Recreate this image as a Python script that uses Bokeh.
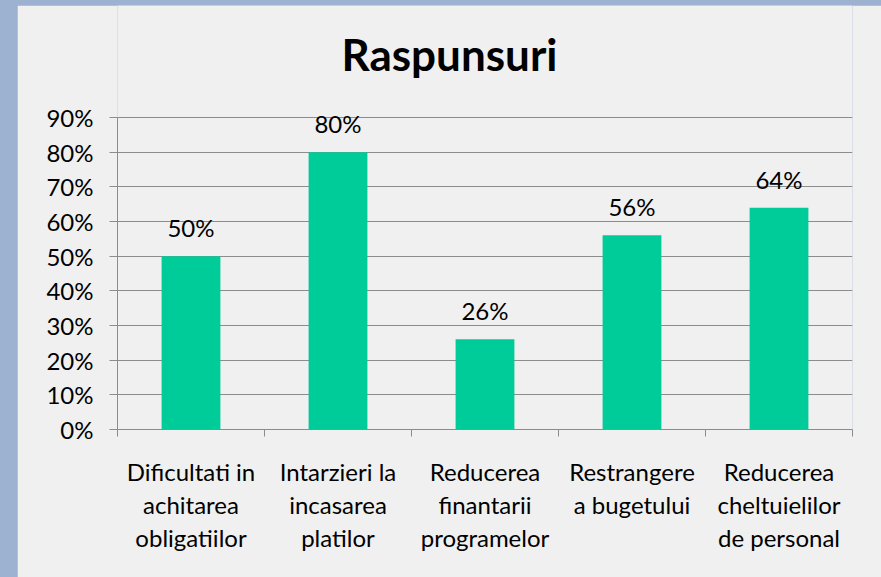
from bokeh.plotting import figure
from bokeh.models import (Range1d, FixedTicker, LinearAxis, NumeralTickFormatter,
                          ColumnDataSource, LabelSet, Label)
from bokeh.core.properties import value
from bokeh.embed import file_html
from bokeh.resources import INLINE

title = "Raspunsuri"
categories = [
    "Dificultati in\nachitarea\nobligatiilor",
    "Intarzieri la\nincasarea\nplatilor",
    "Reducerea\nfinantarii\nprogramelor",
    "Restrangere\na bugetului",
    "Reducerea\ncheltuielilor\nde personal",
]
values = [0.50, 0.80, 0.26, 0.56, 0.64]
y_ticks = [0.0, 0.1, 0.2, 0.3, 0.4, 0.5, 0.6, 0.7, 0.8, 0.9]

FONT = "Lato"
BAR = "#00CC99"
GRID = "#8C8C8C"
PANEL = "#F0F0F0"
FS = "24px"

# layout (pixels)
W, H = 864, 572
LEFT, RIGHT, BOTTOM = 100, 29, 148
PLOT_TOP = 112          # where the 90% line sits, from the figure top
frame_h = H - BOTTOM    # frame runs to the figure top
y_top = y_ticks[-1] * frame_h / (frame_h - PLOT_TOP)

n = len(categories)
centers = [i + 0.5 for i in range(n)]
bounds = list(range(n + 1))

src = ColumnDataSource(data=dict(
    x=centers, top=values, lab=[f"{round(v*100)}%" for v in values]))

p = figure(width=W, height=H, output_backend="svg", toolbar_location=None,
           x_range=Range1d(0, n), y_range=Range1d(0, y_top),
           x_axis_location=None, y_axis_location=None,
           min_border_left=LEFT, min_border_right=RIGHT, min_border_top=0,
           min_border_bottom=BOTTOM)
p.background_fill_color = PANEL
p.border_fill_color = PANEL
p.outline_line_color = None

# y axis
yax = LinearAxis(ticker=FixedTicker(ticks=y_ticks),
                 formatter=NumeralTickFormatter(format="0%"),
                 bounds=(y_ticks[0], y_ticks[-1]))
yax.axis_line_color = GRID
yax.major_tick_line_color = GRID
yax.major_tick_out = 8
yax.major_tick_in = 0
yax.minor_tick_line_color = None
yax.major_label_text_font = FONT
yax.major_label_text_font_size = FS
yax.major_label_text_color = "#000000"
yax.major_label_standoff = 16
p.add_layout(yax, "left")

# x axis with ticks at category boundaries
xtick = LinearAxis(ticker=FixedTicker(ticks=bounds))
xtick.major_label_overrides = {b: "" for b in bounds}
xtick.axis_line_color = GRID
xtick.major_tick_line_color = GRID
xtick.major_tick_out = 7
xtick.major_tick_in = 0
xtick.minor_tick_line_color = None
xtick.major_label_text_font_size = "1px"
xtick.major_label_standoff = 0
p.add_layout(xtick, "below")

# x axis with category labels
xlab = LinearAxis(ticker=FixedTicker(ticks=centers))
xlab.major_label_overrides = {c: lab for c, lab in zip(centers, categories)}
xlab.axis_line_color = None
xlab.major_tick_line_color = None
xlab.minor_tick_line_color = None
xlab.major_label_text_font = FONT
xlab.major_label_text_font_size = FS
xlab.major_label_text_color = "#000000"
xlab.major_label_text_line_height = 1.14
xlab.major_label_standoff = 14
p.add_layout(xlab, "below")

p.xgrid.visible = False
p.ygrid.ticker = FixedTicker(ticks=y_ticks)
p.ygrid.grid_line_color = GRID
p.ygrid.grid_line_width = 1

p.vbar(x="x", top="top", width=0.4, source=src, fill_color=BAR, line_color=None)

labels = LabelSet(x="x", y="top", text="lab", source=src,
                  text_align="center", text_baseline="alphabetic", y_offset=19,
                  text_font=value(FONT), text_font_size=value(FS),
                  text_color=value("#000000"))
p.add_layout(labels)

# chart title, centred on the whole panel
p.add_layout(Label(x=W / 2 - LEFT, y=frame_h - 48, x_units="screen", y_units="screen",
                   text=title, text_align="center", text_baseline="alphabetic",
                   text_font=FONT, text_font_size="44px", text_font_style="bold",
                   text_color="#000000"))

html = file_html(p, INLINE)
css = ("<style>html,body{background:#9CB2D0;overflow:hidden;}"
       "body{margin:5px 0 0 17px;}</style>")
html = html.replace("</head>", css + "</head>", 1)
open("out.html", "w").write(html)
